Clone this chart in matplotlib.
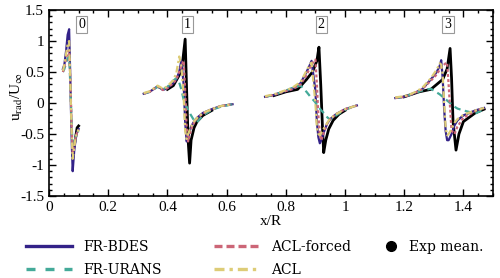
import matplotlib
matplotlib.use("Agg")
import matplotlib.pyplot as plt
from matplotlib.lines import Line2D
from matplotlib.ticker import MultipleLocator

plt.rcParams['font.family'] = ['Liberation Serif', 'DejaVu Serif']
plt.rcParams['mathtext.fontset'] = 'stix'

# station 0
x0 = [0.047, 0.052, 0.058, 0.063, 0.068, 0.072, 0.076, 0.080, 0.085, 0.090, 0.095, 0.100]
bdes0 = [0.55, 0.62, 0.85, 1.10, 1.19, 0.40, -0.50, -1.10, -0.78, -0.58, -0.47, -0.42]
urans0 = [0.50, 0.55, 0.65, 0.72, 0.75, 0.30, -0.30, -0.70, -0.65, -0.55, -0.48, -0.45]
aclf0 = [0.50, 0.58, 0.72, 0.82, 0.85, 0.40, -0.30, -0.80, -0.70, -0.56, -0.47, -0.43]
acl0 = [0.52, 0.62, 0.80, 0.95, 1.00, 0.35, -0.40, -0.90, -0.72, -0.56, -0.47, -0.43]
xe0 = [0.080, 0.085, 0.090, 0.095, 0.100]
exp0 = [-0.75, -0.70, -0.55, -0.40, -0.37]

# station 1
x1 = [0.32, 0.34, 0.367, 0.385, 0.40, 0.42, 0.43, 0.44, 0.447, 0.455, 0.46, 0.465,
      0.47, 0.48, 0.49, 0.50, 0.52, 0.55, 0.58, 0.62]
bdes1 = [0.15, 0.18, 0.27, 0.21, 0.24, 0.32, 0.38, 0.50, 0.68, 0.30, -0.30, -0.62,
         -0.55, -0.38, -0.30, -0.24, -0.16, -0.10, -0.05, -0.02]
urans1 = [0.15, 0.18, 0.26, 0.22, 0.26, 0.36, 0.40, 0.33, 0.22, 0.05, -0.02, -0.06,
          -0.12, -0.20, -0.28, -0.31, -0.20, -0.11, -0.06, -0.02]
aclf1 = [0.15, 0.18, 0.27, 0.21, 0.24, 0.32, 0.38, 0.50, 0.60, 0.68, 0.20, -0.40,
         -0.62, -0.42, -0.32, -0.25, -0.17, -0.10, -0.05, -0.02]
acl1 = [0.16, 0.19, 0.28, 0.23, 0.27, 0.37, 0.48, 0.75, 0.60, 0.10, -0.45, -0.58,
        -0.50, -0.38, -0.30, -0.24, -0.16, -0.10, -0.05, -0.02]
xe1 = [0.40, 0.42, 0.44, 0.45, 0.46, 0.465, 0.47, 0.475, 0.48, 0.49, 0.50, 0.52, 0.55]
exp1 = [0.22, 0.28, 0.45, 0.60, 1.03, 0.20, -0.60, -0.97, -0.60, -0.40, -0.30, -0.20, -0.12]

# station 2
x2 = [0.73, 0.76, 0.79, 0.82, 0.85, 0.87, 0.88, 0.887, 0.90, 0.905, 0.91, 0.915,
      0.92, 0.93, 0.94, 0.95, 0.97, 1.00, 1.04]
bdes2 = [0.10, 0.13, 0.18, 0.22, 0.32, 0.50, 0.60, 0.68, 0.20, -0.30, -0.55, -0.65,
         -0.60, -0.45, -0.33, -0.26, -0.18, -0.10, -0.04]
urans2 = [0.10, 0.13, 0.18, 0.24, 0.28, 0.18, 0.12, 0.08, 0.01, -0.03, -0.06, -0.09,
          -0.12, -0.17, -0.23, -0.27, -0.20, -0.11, -0.04]
aclf2 = [0.10, 0.13, 0.18, 0.22, 0.30, 0.45, 0.55, 0.62, 0.70, 0.30, -0.20, -0.50,
         -0.60, -0.45, -0.33, -0.26, -0.18, -0.10, -0.04]
acl2 = [0.11, 0.14, 0.19, 0.24, 0.34, 0.52, 0.62, 0.65, 0.00, -0.40, -0.50, -0.52,
        -0.48, -0.40, -0.32, -0.25, -0.18, -0.10, -0.04]
xe2 = [0.76, 0.80, 0.84, 0.87, 0.89, 0.905, 0.912, 0.918, 0.924, 0.928, 0.935,
       0.945, 0.96, 0.98, 1.00]
exp2 = [0.12, 0.18, 0.22, 0.38, 0.50, 0.68, 0.90, 0.30, -0.40, -0.80, -0.60,
        -0.42, -0.28, -0.18, -0.12]

# station 3
x3 = [1.17, 1.20, 1.23, 1.26, 1.29, 1.31, 1.32, 1.325, 1.33, 1.335, 1.34, 1.345,
      1.35, 1.36, 1.37, 1.38, 1.40, 1.44, 1.47]
bdes3 = [0.08, 0.10, 0.15, 0.22, 0.38, 0.50, 0.60, 0.69, 0.40, -0.10, -0.45, -0.60,
         -0.60, -0.50, -0.36, -0.28, -0.20, -0.12, -0.08]
urans3 = [0.08, 0.10, 0.15, 0.20, 0.23, 0.17, 0.14, 0.12, 0.10, 0.08, 0.06, 0.04,
          0.02, -0.02, -0.06, -0.09, -0.12, -0.17, -0.10]
aclf3 = [0.08, 0.10, 0.15, 0.22, 0.36, 0.46, 0.54, 0.58, 0.60, 0.62, 0.64, 0.65,
         0.30, -0.45, -0.50, -0.38, -0.24, -0.13, -0.08]
acl3 = [0.09, 0.11, 0.16, 0.24, 0.40, 0.54, 0.64, 0.62, 0.45, 0.00, -0.40, -0.52,
        -0.50, -0.42, -0.32, -0.26, -0.19, -0.12, -0.08]
xe3 = [1.20, 1.25, 1.29, 1.33, 1.345, 1.355, 1.36, 1.365, 1.375, 1.385, 1.40, 1.44, 1.47]
exp3 = [0.10, 0.18, 0.22, 0.38, 0.55, 0.88, 0.40, -0.30, -0.76, -0.50, -0.30, -0.16, -0.10]

stations = ['0', '1', '2', '3']
station_x = [0.11, 0.467, 0.92, 1.348]

model_x = [x0, x1, x2, x3]
exp_x = [xe0, xe1, xe2, xe3]
exp_y = [exp0, exp1, exp2, exp3]
# name, data, colour, dash in plot, dash in legend
models = [
    ('FR-BDES', [bdes0, bdes1, bdes2, bdes3], '#332288', '-', '-'),
    ('FR-URANS', [urans0, urans1, urans2, urans3], '#44AA99', (0, (3, 2)), (0, (2.7, 3.0))),
    ('ACL-forced', [aclf0, aclf1, aclf2, aclf3], '#CC6677', (0, (1.3, 1.0)), (0, (2.4, 1.2))),
    ('ACL', [acl0, acl1, acl2, acl3], '#DDCC77', (0, (3, 1.3, 1, 1.3)), (0, (3, 1.5, 1, 1.5))),
]

fig = plt.figure(figsize=(5, 2.78), dpi=100)
ax = fig.add_axes([0.098, 0.295, 0.888, 0.669])

for xs, ys in zip(exp_x, exp_y):
    ax.plot(xs, ys, color='black', lw=2.0, zorder=2)

handles = []
for name, ys_list, col, ls, lls in models:
    for xs, ys in zip(model_x, ys_list):
        ax.plot(xs, ys, color=col, lw=1.6, ls=ls, zorder=3)
    handles.append(Line2D([], [], color=col, lw=2.4, ls=lls, label=name))
exp_handle = Line2D([], [], color='black', marker='o', ls='none', ms=7, label='Exp mean.')

for lab, sx in zip(stations, station_x):
    ax.text(sx, 1.27, lab, ha='center', va='center', fontsize=10,
            bbox=dict(boxstyle='square,pad=0.15', fc='white', ec='#999999', lw=0.8))

ax.set_xlim(0, 1.5)
ax.set_ylim(-1.5, 1.5)
ax.set_xticks([0, 0.2, 0.4, 0.6, 0.8, 1.0, 1.2, 1.4])
ax.set_xticklabels(['0', '0.2', '0.4', '0.6', '0.8', '1', '1.2', '1.4'])
ax.set_yticks([-1.5, -1, -0.5, 0, 0.5, 1, 1.5])
ax.set_yticklabels(['-1.5', '-1', '-0.5', '0', '0.5', '1', '1.5'])
ax.xaxis.set_minor_locator(MultipleLocator(0.05))
ax.yaxis.set_minor_locator(MultipleLocator(0.1))
ax.tick_params(which='both', direction='in', top=True, right=True, labelsize=11, width=1)
ax.tick_params(which='major', length=5)
ax.tick_params(which='minor', length=2.5)
for sp in ax.spines.values():
    sp.set_linewidth(1.2)

ax.set_xlabel('x/R', fontsize=11, labelpad=1)
ax.set_ylabel(r'u$_{\rm rad}$/U$_\infty$', fontsize=11)
ax.yaxis.set_label_coords(-0.054, 0.532)

lprop = {'family': 'DejaVu Serif', 'size': 10}
fig.legend(handles=handles, ncol=2, loc='upper left', bbox_to_anchor=(0.052, 0.138),
           frameon=False, prop=lprop, borderpad=0, borderaxespad=0,
           handlelength=3.3, columnspacing=3.8, handletextpad=0.8, labelspacing=0.7)
fig.legend(handles=[exp_handle], loc='upper left', bbox_to_anchor=(0.768, 0.138),
           frameon=False, prop=lprop, borderpad=0, borderaxespad=0,
           handlelength=1.0, handletextpad=0.8)

fig.savefig('out.png', dpi=100)
